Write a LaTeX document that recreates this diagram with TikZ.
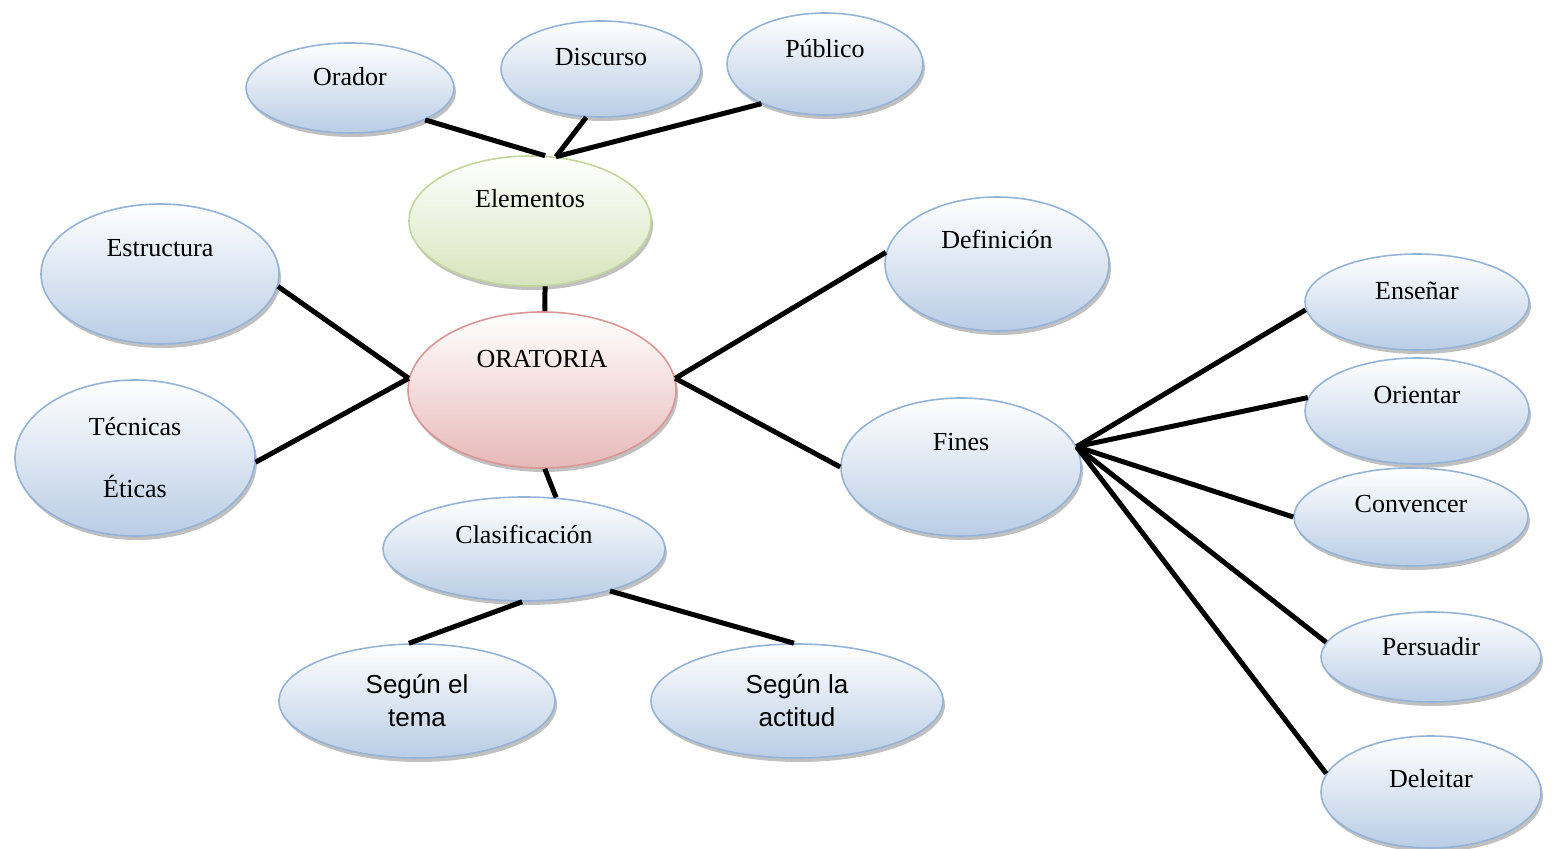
\documentclass[tikz,border=0pt]{standalone}
\usepackage{fontspec}
\setmainfont{Liberation Serif}
\newfontfamily\arialfont{Liberation Sans}
\usetikzlibrary{shapes.geometric,shadows}

\definecolor{blueline}{RGB}{149,179,215}
\definecolor{bluebot}{RGB}{185,205,229}
\definecolor{greenline}{RGB}{195,214,155}
\definecolor{greenbot}{RGB}{215,228,189}
\definecolor{redline}{RGB}{217,150,148}
\definecolor{redbot}{RGB}{230,185,184}

\begin{document}
\begin{tikzpicture}[x=0.5pt, y=-0.5pt,
  bubble/.style={ellipse, draw=blueline, line width=0.8pt, top color=white, bottom color=bluebot,
    inner sep=0pt, font=\fontsize{13}{16.5}\selectfont,
    drop shadow={shadow xshift=1pt, shadow yshift=-2pt, fill=black!45, opacity=0.55}},
  greenbubble/.style={bubble, draw=greenline, bottom color=greenbot},
  redbubble/.style={bubble, draw=redline, bottom color=redbot},
  lift/.style={text height=9pt, text depth=#1pt},
  link/.style={line width=2.5pt}]
  \useasboundingbox (0,0) rectangle (1553,849);

  % centre and branches
  \node[redbubble, lift=31, minimum width=134pt, minimum height=78pt] (oratoria) at (542,390) {ORATORIA};
  \node[greenbubble, lift=22, minimum width=121pt, minimum height=65pt] (elementos) at (530,221) {Elementos};
  \node[bubble, lift=11, minimum width=104pt, minimum height=45pt] (orador) at (350,88) {Orador};
  \node[bubble, lift=12, minimum width=100pt, minimum height=48pt] (discurso) at (601,69) {Discurso};
  \node[bubble, lift=15, minimum width=98pt, minimum height=51pt] (publico) at (825,64) {Público};
  \node[bubble, lift=26, minimum width=119pt, minimum height=70pt] (estructura) at (160,274) {Estructura};
  \node[bubble, align=center, minimum width=120pt, minimum height=78pt] (tecnicas) at (135,458) {Técnicas\\[14.5pt]Éticas};
  \node[bubble, lift=24, minimum width=112pt, minimum height=67pt] (definicion) at (997,264) {Definición};
  \node[bubble, lift=25, minimum width=120pt, minimum height=69pt] (fines) at (961,467) {Fines};
  \node[bubble, lift=14, minimum width=141pt, minimum height=52pt] (clasificacion) at (524,549) {Clasificación};
  \node[bubble, align=center, font=\arialfont\fontsize{13}{16.5}\selectfont, minimum width=138pt, minimum height=57pt] (tema) at (417,701) {Según el\\tema};
  \node[bubble, align=center, font=\arialfont\fontsize{13}{16.5}\selectfont, minimum width=146pt, minimum height=57pt] (actitud) at (797,701) {Según la\\actitud};

  % fines
  \node[bubble, lift=11, minimum width=112pt, minimum height=48pt] (ensenar) at (1417,302) {Enseñar};
  \node[bubble, lift=16, minimum width=112pt, minimum height=53pt] (orientar) at (1417,411) {Orientar};
  \node[bubble, lift=13, minimum width=117pt, minimum height=49pt] (convencer) at (1411,517) {Convencer};
  \node[bubble, lift=10, minimum width=110pt, minimum height=45pt] (persuadir) at (1431,657) {Persuadir};
  \node[bubble, lift=14, minimum width=110pt, minimum height=56pt] (deleitar) at (1431,792) {Deleitar};

  \draw[link] (orador.-23) -- (elementos.77);
  \draw[link] (discurso.-107) -- (elementos.68);
  \draw[link] (publico.-148) -- (elementos.68);
  \draw[link] (elementos.-77) -- (oratoria.88);
  \draw[link] (estructura.-6) -- (oratoria.175);
  \draw[link] (tecnicas.-2) -- (oratoria.175);
  \draw[link] (oratoria.5) -- (definicion.174);
  \draw[link] (oratoria.5) -- (fines.west);
  \draw[link] (oratoria.-88) -- (clasificacion.58);
  \draw[link] (clasificacion.-92) -- (tema.98);
  \draw[link] (clasificacion.-26) -- (actitud.93);
  \draw[link] (fines.10) -- (ensenar.-176);
  \draw[link] (fines.10) -- (orientar.173);
  \draw[link] (fines.10) -- (convencer.west);
  \draw[link] (fines.10) -- (persuadir.172);
  \draw[link] (fines.10) -- (deleitar.170);
\end{tikzpicture}
\end{document}
